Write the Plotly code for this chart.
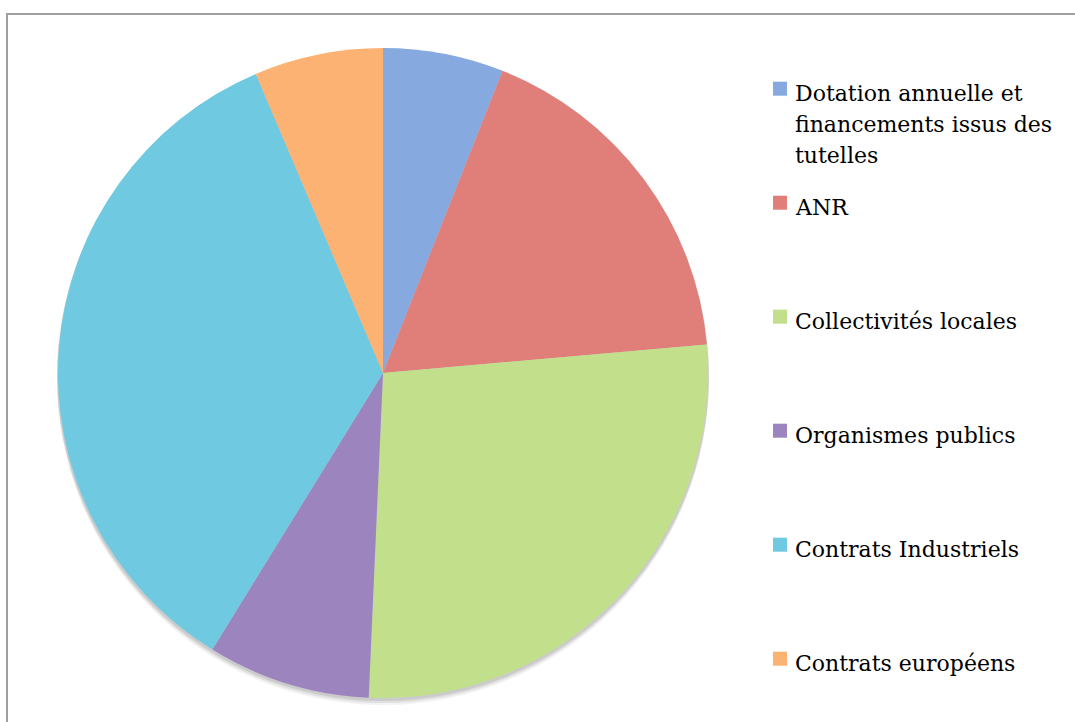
import textwrap
import plotly.graph_objects as go

# Funding sources and their share of the budget (%)
categories = [
    "Dotation annuelle et financements issus des tutelles",
    "ANR",
    "Collectivités locales",
    "Organismes publics",
    "Contrats Industriels",
    "Contrats européens",
]
shares = [6.0, 17.6, 27.1, 8.1, 34.8, 6.4]
colors = ["#86a9e0", "#e07f7a", "#c2df8c", "#9c84be", "#6ec9e1", "#fbb273"]

W, H = 1075, 722


def px_x(v):
    return v / W


def px_y(v):
    return 1 - v / H


# pie geometry (pixels)
cx, cy, r = 383, 373, 325

fig = go.Figure()

# soft drop shadow under the pie
for off, alpha in [(6, 0.05), (4, 0.07), (2, 0.09)]:
    fig.add_trace(go.Pie(
        values=[1], labels=["shadow"], sort=False,
        marker=dict(colors=[f"rgba(0,0,0,{alpha})"], line=dict(width=0)),
        textinfo="none", hoverinfo="skip", showlegend=False,
        domain=dict(x=[px_x(cx - r - 1), px_x(cx + r + 1)],
                    y=[px_y(cy + r + 1 + off), px_y(cy - r - 1 + off)]),
    ))

fig.add_trace(go.Pie(
    labels=categories,
    values=shares,
    sort=False,
    direction="clockwise",
    rotation=0,
    marker=dict(colors=colors, line=dict(width=0)),
    textinfo="none",
    showlegend=False,
    domain=dict(x=[px_x(cx - r), px_x(cx + r)], y=[px_y(cy + r), px_y(cy - r)]),
))

# hand-placed legend: evenly spaced slots on the right
first_baseline, slot = 100.7, 114
line_h = 31
font = dict(family="DejaVu Serif", size=22, color="#000000")
shapes = []
annotations = []
for i, (name, col) in enumerate(zip(categories, colors)):
    base = first_baseline + i * slot
    for j, line in enumerate(textwrap.wrap(name, width=22)):
        annotations.append(dict(
            text=line, x=px_x(793), y=px_y(base + j * line_h - 7.6),
            xref="paper", yref="paper", xanchor="left", yanchor="middle",
            align="left", showarrow=False, font=font,
        ))
    shapes.append(dict(
        type="rect", xref="paper", yref="paper",
        x0=px_x(773), x1=px_x(787), y0=px_y(base - 5), y1=px_y(base - 19),
        fillcolor=col, line=dict(width=0),
    ))

# chart frame
shapes.append(dict(
    type="rect", xref="paper", yref="paper",
    x0=px_x(7), x1=px_x(W + 10), y0=px_y(H + 10), y1=px_y(14),
    line=dict(color="#a0a0a0", width=2), fillcolor="rgba(0,0,0,0)",
))

fig.update_layout(
    width=W, height=H,
    margin=dict(l=0, r=0, t=0, b=0),
    paper_bgcolor="white",
    plot_bgcolor="white",
    shapes=shapes,
    annotations=annotations,
    showlegend=False,
)

fig.write_html("out.html")
